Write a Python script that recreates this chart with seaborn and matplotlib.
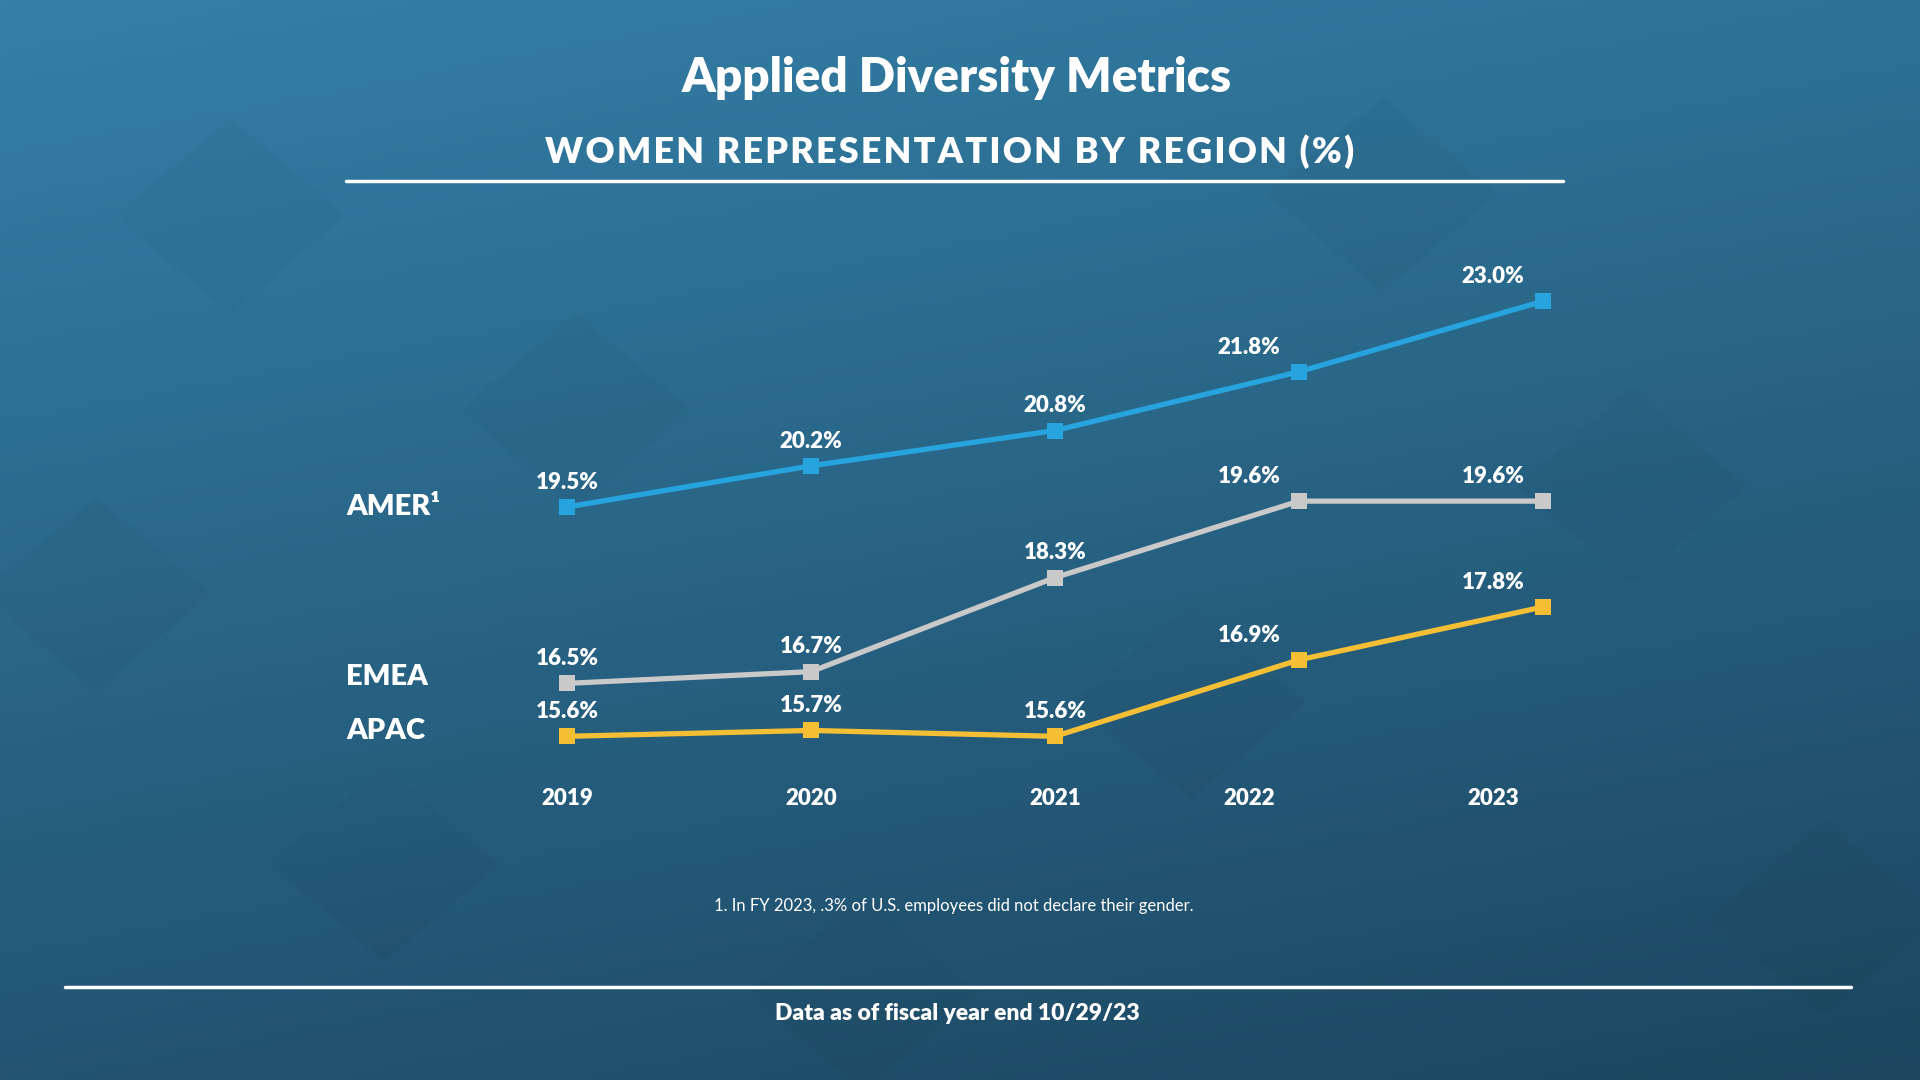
import numpy as np
import pandas as pd
import seaborn as sns
import matplotlib.pyplot as plt

years = ['2019', '2020', '2021', '2022', '2023']
amer = [19.5, 20.2, 20.8, 21.8, 23.0]
emea = [16.5, 16.7, 18.3, 19.6, 19.6]
apac = [15.6, 15.7, 15.6, 16.9, 17.8]
regions = ['AMER', 'EMEA', 'APAC']
region_labels = ['AMER\u00b9', 'EMEA', 'APAC']
colors = {'AMER': '#27a3dd', 'EMEA': '#c9c9c9', 'APAC': '#f4bf35'}

df = pd.DataFrame({
    'year': years * 3,
    'x': list(range(len(years))) * 3,
    'value': amer + emea + apac,
    'region': [r for r in regions for _ in years],
})

sns.set_theme(style='white')
plt.rcParams['font.family'] = ['Lato', 'DejaVu Sans']
W = 'heavy'

fig = plt.figure(figsize=(19.2, 10.8), dpi=100)
ax = fig.add_axes([0, 0, 1, 1])

# pixel mapping: x step 244px starting at 567px, y 58.8px per point, 19.5 at 507px from top
xlim = (-567 / 244, (1920 - 567) / 244)
ylim = (19.5 - (1080 - 507) / 58.8, 19.5 + 507 / 58.8)

# background gradient
gy, gx = np.mgrid[0:1:200j, 0:1:200j]
t = np.clip(0.75 * gy + 0.25 * gx, 0, 1)
top = np.array([52, 128, 168]) / 255
bot = np.array([28, 70, 96]) / 255
img = top[None, None, :] * (1 - t[..., None]) + bot[None, None, :] * t[..., None]
ax.imshow(img, extent=(xlim[0], xlim[1], ylim[0], ylim[1]), aspect='auto', zorder=0)

# faint diamond texture
for cx, cy in [(0.05, 0.45), (0.2, 0.2), (0.45, 0.08), (0.62, 0.35), (0.85, 0.55),
               (0.95, 0.15), (0.3, 0.62), (0.72, 0.82), (0.12, 0.8)]:
    d = [(cx - 0.06, cy), (cx, cy + 0.09), (cx + 0.06, cy), (cx, cy - 0.09)]
    ax.add_patch(plt.Polygon(d, closed=True, transform=ax.transAxes,
                             color='black', alpha=0.025, lw=0, zorder=1))

sns.lineplot(data=df, x='x', y='value', hue='region', palette=colors,
             style='region', markers={'AMER': 's', 'EMEA': 's', 'APAC': 's'},
             dashes=False, linewidth=3.8, markersize=12, markeredgewidth=0,
             legend=False, ax=ax, zorder=3)

ax.set_xlim(*xlim)
ax.set_ylim(*ylim)
ax.axis('off')

# label shift used in the original for the last two columns
label_shift = [0, 0, 0, -0.205, -0.205]

for r in regions:
    sub = df[df['region'] == r]
    for i, (xv, v) in enumerate(zip(sub['x'], sub['value'])):
        ax.text(xv + label_shift[i], v + 0.42, f'{v:.1f}%', color='white',
                fontsize=16, fontweight=W, ha='center', va='center', zorder=4)

for i, y in enumerate(years):
    ax.text(i + label_shift[i], 14.55, y, color='white', fontsize=16,
            fontweight=W, ha='center', va='center', zorder=4)

label_y = [19.5, 16.61, 15.69]
for lab, yv in zip(region_labels, label_y):
    ax.text(346 / 244 + xlim[0], yv, lab, color='white', fontsize=21,
            fontweight=W, ha='left', va='center', zorder=4)

fig.text(0.4985, 1 - 78 / 1080, 'Applied Diversity Metrics', color='white',
         fontsize=34.3, fontweight=W, ha='center', va='center')
sub_title = '\u200a'.join('WOMEN REPRESENTATION BY REGION (%)')
fig.text(0.4946, 1 - 152 / 1080, sub_title, color='white',
         fontsize=25.8, fontweight=W, ha='center', va='center')
ax.plot([346 / 1920, 1563 / 1920], [1 - 181 / 1080] * 2, transform=ax.transAxes,
        color='white', lw=2.5, zorder=4)

fig.text(0.497, 1 - 906 / 1080, '1. In FY 2023, .3% of U.S. employees did not declare their gender.',
         color='white', fontsize=12, ha='center', va='center')
ax.plot([65 / 1920, 1851 / 1920], [1 - 987 / 1080] * 2, transform=ax.transAxes,
        color='white', lw=2.5, zorder=4)
fig.text(0.4985, 1 - 1014 / 1080, 'Data as of fiscal year end 10/29/23', color='white',
         fontsize=16.5, fontweight=W, ha='center', va='center')

fig.savefig('out.png', dpi=100)
